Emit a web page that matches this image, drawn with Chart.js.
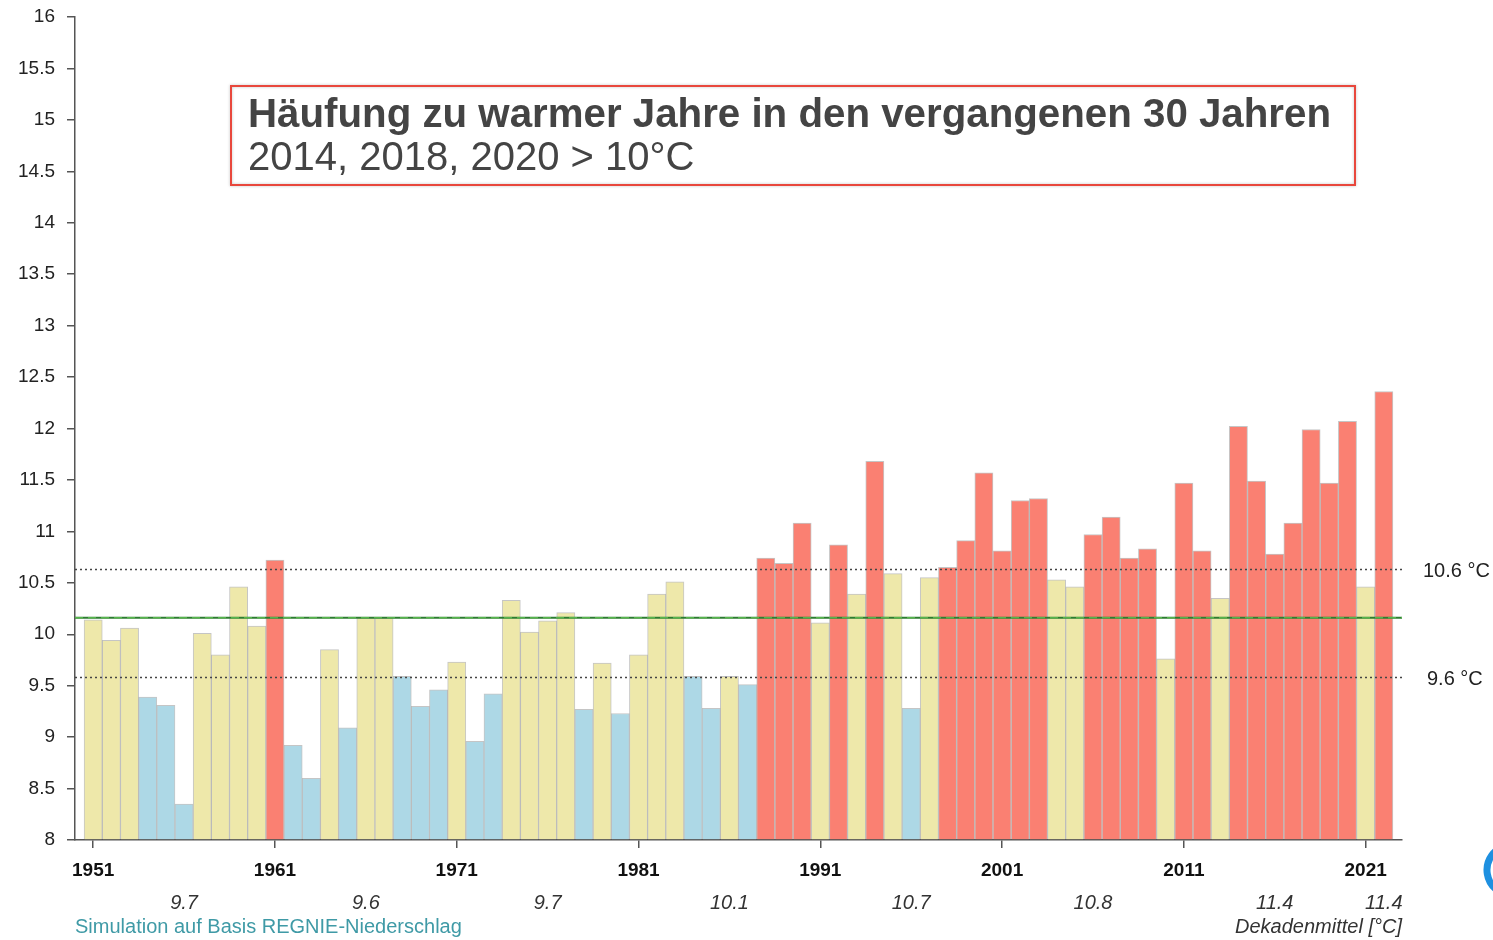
<!DOCTYPE html>
<html>
<head>
<meta charset="utf-8">
<script src="https://cdn.jsdelivr.net/npm/chart.js@4.4.1/dist/chart.umd.min.js"></script>
<style>
  body { margin: 0; background: #fff; }
</style>
</head>
<body>
<canvas id="temp-chart" width="1493" height="940"></canvas>
<script>
// Jahresmitteltemperatur 1951-2022
const jahre = [];
for (let j = 1951; j <= 2022; j++) jahre.push(j);

const temperatur = [
  10.14, 9.94, 10.06, 9.39, 9.31, 8.35, 10.01, 9.80, 10.46, 10.08,
  10.72, 8.92, 8.60, 9.85, 9.09, 10.16, 10.16, 9.59, 9.30, 9.46,
  9.73, 8.96, 9.42, 10.33, 10.02, 10.13, 10.21, 9.27, 9.72, 9.23,
  9.80, 10.39, 10.51, 9.59, 9.28, 9.59, 9.51, 10.74, 10.69, 11.08,
  10.11, 10.87, 10.39, 11.68, 10.59, 9.28, 10.55, 10.65, 10.91, 11.57,
  10.81, 11.30, 11.32, 10.53, 10.46, 10.97, 11.14, 10.74, 10.83, 9.76,
  11.47, 10.81, 10.35, 12.02, 11.49, 10.78, 11.08, 11.99, 11.47, 12.07,
  10.46, 12.36
];

// k = kalt (blau), n = normal (gelb), w = warm (rot)
const klasse = [
  'n','n','n','k','k','k','n','n','n','n',
  'w','k','k','n','k','n','n','k','k','k',
  'n','k','k','n','n','n','n','k','n','k',
  'n','n','n','k','k','n','k','w','w','w',
  'n','w','n','w','n','k','n','w','w','w',
  'w','w','w','n','n','w','w','w','w','n',
  'w','w','n','w','w','w','w','w','w','w',
  'n','w'
];

const farben = { k: '#add8e6', n: '#eee8aa', w: '#fa8072' };

const achsenJahre = [1951, 1961, 1971, 1981, 1991, 2001, 2011, 2021];
const dekadenJahr = [1956, 1966, 1976, 1986, 1996, 2006, 2016, 2022];
const dekadenWert = ['9.7', '9.6', '9.7', '10.1', '10.7', '10.8', '11.4', '11.4'];

const mittelwert = 10.16;
const grenzeOben = 10.63;
const grenzeUnten = 9.58;

const FONT = '"Liberation Sans", Arial, sans-serif';

// Referenzlinien und Beschriftungen
const overlay = {
  id: 'overlay',
  afterDatasetsDraw(chart) {
    const { ctx, chartArea, scales: { x, y } } = chart;
    const left = chartArea.left, right = chartArea.right;
    ctx.save();
    // gepunktete Grenzen
    ctx.strokeStyle = '#444';
    ctx.lineWidth = 1.5;
    ctx.setLineDash([2, 3]);
    [grenzeOben, grenzeUnten].forEach(v => {
      const py = Math.round(y.getPixelForValue(v)) + 0.5;
      ctx.beginPath();
      ctx.moveTo(left, py);
      ctx.lineTo(right, py);
      ctx.stroke();
    });
    // Mittelwert gruen
    const gy = y.getPixelForValue(mittelwert);
    ctx.setLineDash([]);
    ctx.strokeStyle = '#2e7d32';
    ctx.lineWidth = 2;
    ctx.beginPath();
    ctx.moveTo(left, gy);
    ctx.lineTo(right, gy);
    ctx.stroke();
    ctx.setLineDash([8, 5]);
    ctx.strokeStyle = '#66cc55';
    ctx.lineWidth = 1;
    ctx.beginPath();
    ctx.moveTo(left, gy);
    ctx.lineTo(right, gy);
    ctx.stroke();
    ctx.restore();
  },
  afterDraw(chart) {
    const { ctx, chartArea, scales: { x, y } } = chart;
    ctx.save();
    ctx.setLineDash([]);

    // Textbox
    ctx.shadowColor = 'rgba(0,0,0,0.25)';
    ctx.shadowBlur = 3;
    ctx.strokeStyle = '#e8473c';
    ctx.lineWidth = 2;
    ctx.strokeRect(231, 86, 1124, 99);
    ctx.shadowBlur = 0;
    ctx.shadowColor = 'transparent';
    ctx.fillStyle = '#444';
    ctx.textAlign = 'left';
    ctx.textBaseline = 'alphabetic';
    ctx.font = 'bold 40.5px ' + FONT;
    ctx.fillText('Häufung zu warmer Jahre in den vergangenen 30 Jahren', 248, 127, 1083);
    ctx.font = '40px ' + FONT;
    ctx.fillText('2014, 2018, 2020 > 10°C', 248, 170, 447);

    // rechte Beschriftung
    ctx.fillStyle = '#222';
    ctx.font = '20px ' + FONT;
    ctx.textBaseline = 'middle';
    ctx.fillText('10.6 °C', 1423, 571);
    ctx.fillText('9.6 °C', 1427, 679);

    // Dekadenmittel
    ctx.font = 'italic 20px ' + FONT;
    ctx.fillStyle = '#333';
    ctx.textAlign = 'center';
    dekadenJahr.forEach((j, i) => {
      ctx.fillText(dekadenWert[i], x.getPixelForValue(j), 903);
    });
    ctx.textAlign = 'right';
    ctx.fillText('Dekadenmittel [°C]', chartArea.right, 927);

    ctx.textAlign = 'left';
    ctx.font = '20px ' + FONT;
    ctx.fillStyle = '#3f9aa6';
    ctx.fillText('Simulation auf Basis REGNIE-Niederschlag', 75, 927);

    // angeschnittenes Logo rechts
    ctx.strokeStyle = '#1e90e0';
    ctx.lineWidth = 7;
    ctx.beginPath();
    ctx.arc(1512, 870, 25, Math.PI * 0.7, Math.PI * 1.3);
    ctx.stroke();
    ctx.restore();
  }
};

const ctx = document.getElementById('temp-chart').getContext('2d');
new Chart(ctx, {
  type: 'bar',
  data: {
    datasets: [{
      data: jahre.map((j, i) => ({ x: j, y: temperatur[i] })),
      backgroundColor: klasse.map(k => farben[k]),
      borderColor: 'rgba(150,150,150,0.55)',
      borderWidth: 1,
      barPercentage: 1,
      categoryPercentage: 1,
      base: 8
    }]
  },
  options: {
    responsive: false,
    animation: false,
    layout: { padding: { top: 17, right: 91, bottom: 0, left: 0 } },
    plugins: { legend: { display: false }, tooltip: { enabled: false } },
    scales: {
      x: {
        type: 'linear',
        min: 1950,
        max: 2023,
        offset: false,
        afterFit(s) { s.height = 100; s.paddingLeft = 0; s.paddingRight = 0; },
        afterBuildTicks(s) { s.ticks = achsenJahre.map(v => ({ value: v })); },
        grid: { offset: false, drawOnChartArea: false, tickLength: 8, color: '#555', lineWidth: 1.5 },
        border: { color: '#555', width: 1.5 },
        ticks: {
          padding: 11,
          autoSkip: false,
          maxRotation: 0,
          color: '#111',
          font: { family: FONT, size: 19, weight: 'bold' },
          callback: v => String(v)
        }
      },
      y: {
        min: 8,
        max: 16,
        afterFit(s) { s.width = 75; s.paddingTop = 0; s.paddingBottom = 0; },
        grid: { drawOnChartArea: false, tickLength: 8, color: '#555', lineWidth: 1.5 },
        border: { color: '#555', width: 1.5 },
        ticks: {
          stepSize: 0.5,
          padding: 12,
          color: '#222',
          font: { family: FONT, size: 19 },
          callback: v => String(v)
        }
      }
    }
  },
  plugins: [overlay]
});
</script>
</body>
</html>
